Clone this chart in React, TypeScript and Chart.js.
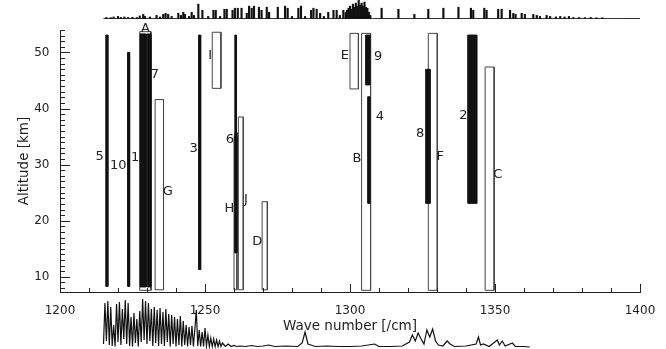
import React, { useEffect, useRef } from 'react';
import { Chart, registerables } from 'chart.js';

Chart.register(...registerables);

// ---- axis ranges & tick labels ----
const waveMin = 1200;
const waveMax = 1400;
const altMin = 7.3;
const altMax = 54;
const xTickValues = [1200, 1250, 1300, 1350, 1400];
const yTickValues = [10, 20, 30, 40, 50];

// ---- filled (black) retrieval windows ----
const solidNames = ['5', '10', '1', '7', '3', 'Hline', '6', '9', '4', '8', '2'];
const solidStart = [1215.8, 1223.3, 1227.6, 1230.1, 1247.8, 1260.3, 1260.3, 1305.4, 1306.1, 1326.1, 1340.6];
const solidEnd = [1216.5, 1224.0, 1229.7, 1231.3, 1248.5, 1260.8, 1261.0, 1306.8, 1306.8, 1327.6, 1343.7];
const solidLow = [8.3, 8.3, 8.2, 8.2, 11.3, 14.3, 14.3, 44.2, 23.1, 23.1, 23.1];
const solidHigh = [53.1, 50.0, 53.3, 53.3, 53.1, 53.1, 35.7, 53.1, 42.1, 47.0, 53.1];

// ---- open retrieval windows ----
const openNames = ['A', 'G', 'I', 'H', 'J', 'D', 'E', 'B', 'F', 'C'];
const openStart = [1227.5, 1232.8, 1252.5, 1260.0, 1261.5, 1269.7, 1300.0, 1304.0, 1327.0, 1346.6];
const openEnd = [1231.4, 1235.7, 1255.5, 1261.0, 1263.2, 1271.5, 1302.9, 1307.1, 1330.1, 1349.7];
const openLow = [7.6, 7.7, 43.6, 7.7, 7.7, 7.7, 43.5, 7.6, 7.6, 7.6];
const openHigh = [53.7, 41.6, 53.6, 35.0, 38.5, 23.4, 53.4, 53.4, 53.4, 47.4];

// ---- window labels (anchored in data units) ----
const labelText = ['5', '10', '1', '7', 'A', 'G', '3', 'I', '6', 'H', 'J', 'D', 'E', '9', '4', 'B', '8', 'F', '2', 'C'];
const labelWave = [1213.7, 1220.1, 1225.9, 1232.7, 1229.5, 1237.2, 1246.1, 1251.8, 1258.6, 1258.4, 1264.1, 1268.0, 1298.2, 1309.7, 1310.3, 1302.4, 1324.2, 1331.1, 1339.1, 1351.0];
const labelAlt = [31.4, 29.9, 31.3, 46.0, 54.3, 25.2, 32.9, 49.4, 34.4, 22.2, 23.7, 16.3, 49.4, 49.3, 38.5, 31.1, 35.6, 31.4, 38.8, 28.2];

// ---- top spectrum (line strengths, arbitrary units) ----
const topWave = [
  1216, 1217.5, 1218.5, 1220, 1221, 1222.2, 1223.5, 1225, 1226.5, 1227.5, 1228.7, 1229.3, 1231, 1233.3, 1234.5,
  1235.6, 1236.4, 1237.3, 1238.5, 1240.8, 1241.7, 1242.5, 1243.1, 1244.5, 1245.4, 1246.2, 1247.7, 1249.1, 1251.1,
  1252.9, 1253.7, 1255.2, 1256.7, 1257.5, 1259.5, 1260.3, 1261.3, 1262.6, 1264.4, 1265.2, 1266.1, 1266.9, 1268.6,
  1269.5, 1271.3, 1272.1, 1275.1, 1277.6, 1278.5, 1280, 1282.2, 1283.1, 1284.5, 1286.6, 1287.4, 1288.5, 1289.7,
  1291, 1292.5, 1294.3, 1295.4, 1296.5, 1297.7, 1298.5, 1299, 1299.5, 1300, 1300.5, 1301, 1301.5, 1302, 1302.5,
  1303, 1303.5, 1304, 1304.5, 1305, 1305.5, 1306, 1306.5, 1307, 1310.9, 1316.7, 1322.2, 1327, 1332.2, 1337.4,
  1341.7, 1342.5, 1346.3, 1347.1, 1351.1, 1352.3, 1355.2, 1356.3, 1357.1, 1359.2, 1360.3, 1363.2, 1364.4, 1365.5,
  1367.8, 1369, 1371, 1372.5, 1374, 1375.5, 1377, 1379, 1381, 1383, 1385, 1387,
];
const topValue = [
  1, 0.8, 1.5, 2, 1, 1.5, 1, 1.2, 1, 2.5, 4, 2, 1.5, 3, 1.5,
  4, 5, 4, 2, 5, 3, 6, 4, 2, 6, 3, 14, 8, 2,
  8, 8, 2, 9, 9, 8, 10, 10, 10, 5, 12, 10, 12, 11,
  8, 11, 6, 11, 12, 10, 2, 10, 12, 2, 8, 10, 9, 5,
  2, 6, 8, 8, 3, 8, 6, 8, 10, 12, 9, 14, 11, 15, 12,
  18, 13, 15, 12, 16, 11, 10, 6, 3, 10, 9, 4, 9, 10, 11,
  10, 8, 10, 8, 9, 9, 8, 5, 4, 5, 4, 4, 3, 2,
  3, 2, 1.5, 2, 1.5, 2, 1, 1, 0.8, 1, 0.7, 0.8,
];

// ---- bottom spectrum (trace, arbitrary units) ----
const bottomWave = [
  1215.0, 1215.5, 1216.0, 1216.5, 1217.0, 1217.5, 1218.0, 1218.5, 1219.0, 1219.5, 1220.0, 1220.5, 1221.0, 1221.5,
  1222.0, 1222.5, 1223.0, 1223.5, 1224.0, 1224.5, 1225.0, 1225.5, 1226.0, 1226.5, 1227.0, 1227.5, 1228.0, 1228.5,
  1229.0, 1229.5, 1230.0, 1230.5, 1231.0, 1231.5, 1232.0, 1232.5, 1233.0, 1233.5, 1234.0, 1234.5, 1235.0, 1235.5,
  1236.0, 1236.5, 1237.0, 1237.5, 1238.0, 1238.5, 1239.0, 1239.5, 1240.0, 1240.5, 1241.0, 1241.5, 1242.0, 1242.5,
  1243.0, 1243.5, 1244.0, 1244.5, 1245.0, 1245.5, 1246.0, 1246.5, 1247.0, 1247.5, 1248.0, 1248.5, 1249.0, 1249.5,
  1250.0, 1250.5, 1251.0, 1251.5, 1252.0, 1252.5, 1253.0, 1253.5, 1254.0, 1254.5, 1255.0, 1255.5, 1256.0, 1257.0,
  1258.0, 1259, 1260, 1261, 1262, 1264, 1266, 1268, 1270, 1272, 1274, 1278, 1282, 1283.5, 1284.5, 1285.5, 1286.5,
  1288, 1292, 1296, 1300, 1304, 1308.5, 1310, 1314, 1318, 1320.5, 1321.5, 1322.5, 1323.5, 1324.5, 1325.5, 1326.5,
  1327.5, 1328.5, 1329.5, 1330.5, 1332, 1333.5, 1334.5, 1336, 1340, 1343.5, 1344.3, 1345, 1346, 1348, 1350.8,
  1351.5, 1352.5, 1353.5, 1356, 1357, 1360, 1362,
];
const bottomValue = [
  3, 44, 6, 46, 2, 40, 1, 22, 0.5, 43, 5, 45, 2, 38,
  8, 47, 3, 44, 1, 30, 0.5, 34, 4, 28, 0.5, 36, 5, 48,
  7, 46, 3, 44, 6, 38, 1, 40, 4, 37, 1, 39, 3, 35,
  1, 38, 5, 33, 0.5, 32, 3, 30, 0.5, 28, 2, 31, 0.5, 26,
  2, 22, 0.5, 20, 2, 21, 0.5, 18, 37, 1, 17, 0.5, 15, 0.5,
  19, 1, 12, 0.5, 9, 0.5, 8, 0.5, 7, 0.5, 6, 0.5, 4, 0.5,
  3, 0.5, 1.5, 0.5, 1, 0.5, 1.5, 0.5, 1, 2, 0.5, 1, 0.5, 4, 15, 3, 2,
  0.5, 1, 0.5, 0.5, 1, 3, 0.5, 0.5, 1, 5, 12, 6, 14, 8, 3, 17,
  10, 18, 6, 2, 1, 6, 3, 0.5, 1, 3, 10, 2, 3, 0.5, 7,
  2, 6, 1, 4, 0.5, 0.5, 0,
];

const FONT = '"DejaVu Sans", "Liberation Sans", sans-serif';
const INK = '#222';

function rectPoints(x0: number, x1: number, lo: number, hi: number) {
  return [
    { x: x0, y: lo },
    { x: x0, y: hi },
    { x: x1, y: hi },
    { x: x1, y: lo },
    { x: x0, y: lo },
  ];
}

const decorPlugin = {
  id: 'decor',
  afterDatasetsDraw(chart: any) {
    const { ctx, chartArea } = chart;
    const x = chart.scales.x;
    const y = chart.scales.y;
    ctx.save();
    ctx.strokeStyle = INK;
    ctx.lineWidth = 1;
    ctx.beginPath();
    for (let v = 8; v <= 54; v++) {
      const py = Math.round(y.getPixelForValue(v)) + 0.5;
      const len = v % 10 === 0 ? 10 : 5;
      ctx.moveTo(chartArea.left, py);
      ctx.lineTo(chartArea.left + len, py);
    }
    for (let v = waveMin; v <= waveMax; v += 10) {
      const px = Math.round(x.getPixelForValue(v)) + 0.5;
      const len = v % 50 === 0 ? 8 : 4;
      ctx.moveTo(px, chartArea.bottom);
      ctx.lineTo(px, chartArea.bottom - len);
    }
    ctx.stroke();
    ctx.fillStyle = INK;
    ctx.font = `13px ${FONT}`;
    ctx.textAlign = 'center';
    ctx.textBaseline = 'middle';
    labelText.forEach((t, i) => {
      ctx.fillText(t, x.getPixelForValue(labelWave[i]), y.getPixelForValue(labelAlt[i]));
    });
    ctx.restore();
  },
};

export default function App() {
  const mainRef = useRef<HTMLCanvasElement>(null);
  const topRef = useRef<HTMLCanvasElement>(null);
  const botRef = useRef<HTMLCanvasElement>(null);

  useEffect(() => {
    const datasets: any[] = [];
    solidNames.forEach((n, i) => {
      datasets.push({
        label: n,
        data: rectPoints(solidStart[i], solidEnd[i], solidLow[i], solidHigh[i]),
        borderColor: '#111',
        backgroundColor: '#111',
        borderWidth: 1,
        fill: 'shape',
        pointRadius: 0,
        tension: 0,
      });
    });
    openNames.forEach((n, i) => {
      datasets.push({
        label: n,
        data: rectPoints(openStart[i], openEnd[i], openLow[i], openHigh[i]),
        borderColor: '#444',
        backgroundColor: 'rgba(0,0,0,0)',
        borderWidth: 1,
        fill: false,
        pointRadius: 0,
        tension: 0,
      });
    });

    const main = new Chart(mainRef.current!, {
      type: 'line',
      data: { datasets },
      options: {
        responsive: false,
        animation: false,
        events: [],
        layout: { padding: { left: 0, right: 26, top: 30, bottom: 0 } },
        plugins: { legend: { display: false }, tooltip: { enabled: false } },
        scales: {
          x: {
            type: 'linear',
            min: waveMin,
            max: waveMax,
            grid: { display: false, drawTicks: false },
            border: { display: true, color: INK, width: 1 },
            afterBuildTicks: (s: any) => {
              s.ticks = xTickValues.map((v) => ({ value: v }));
            },
            afterFit: (s: any) => {
              s.height = 57;
              s.paddingLeft = 0;
              s.paddingRight = 0;
            },
            ticks: {
              padding: 12,
              maxRotation: 0,
              autoSkip: false,
              color: INK,
              font: { family: FONT, size: 12 },
              callback: (v: any) => String(v),
            },
            title: {
              display: true,
              text: 'Wave number [/cm]',
              color: INK,
              font: { family: FONT, size: 13.5 },
              padding: { top: 0, bottom: 14 },
            },
          },
          y: {
            type: 'linear',
            min: altMin,
            max: altMax,
            grid: { display: false, drawTicks: false },
            border: { display: true, color: INK, width: 1 },
            afterBuildTicks: (s: any) => {
              s.ticks = yTickValues.map((v) => ({ value: v }));
            },
            afterFit: (s: any) => {
              s.width = 60;
              s.paddingTop = 0;
              s.paddingBottom = 0;
            },
            ticks: {
              padding: 10.5,
              autoSkip: false,
              color: INK,
              font: { family: FONT, size: 12 },
              callback: (v: any) => String(v),
            },
            title: {
              display: true,
              text: 'Altitude [km]',
              color: INK,
              font: { family: FONT, size: 13.5 },
              padding: { top: 16, bottom: 0 },
            },
          },
        },
      } as any,
      plugins: [decorPlugin],
    });

    const top = new Chart(topRef.current!, {
      type: 'bar',
      data: {
        datasets: [
          {
            type: 'bar',
            data: topWave.map((w, i) => ({ x: w, y: topValue[i] })),
            backgroundColor: '#111',
            borderWidth: 0,
            barThickness: 1.5,
          } as any,
          {
            type: 'line',
            data: [
              { x: 1215, y: 0 },
              { x: 1401, y: 0 },
            ],
            borderColor: '#333',
            borderWidth: 1,
            pointRadius: 0,
          } as any,
        ],
      },
      options: {
        responsive: false,
        animation: false,
        events: [],
        layout: { padding: { left: 60, right: 26, top: 0, bottom: 2 } },
        plugins: { legend: { display: false }, tooltip: { enabled: false } },
        scales: {
          x: { type: 'linear', min: waveMin, max: waveMax, offset: false, display: false },
          y: { type: 'linear', min: -0.5, max: 18, display: false },
        },
      } as any,
    });

    const bot = new Chart(botRef.current!, {
      type: 'line',
      data: {
        datasets: [
          {
            data: bottomWave.map((w, i) => ({ x: w, y: bottomValue[i] })),
            borderColor: '#111',
            borderWidth: 1.2,
            pointRadius: 0,
            tension: 0,
            fill: false,
          },
        ],
      },
      options: {
        responsive: false,
        animation: false,
        events: [],
        layout: { padding: { left: 60, right: 26, top: 0, bottom: 0 } },
        plugins: { legend: { display: false }, tooltip: { enabled: false } },
        scales: {
          x: { type: 'linear', min: waveMin, max: waveMax, display: false },
          y: { type: 'linear', min: -2, max: 51, display: false },
        },
      } as any,
    });

    return () => {
      main.destroy();
      top.destroy();
      bot.destroy();
    };
  }, []);

  return (
    <div
      style={{
        position: 'fixed',
        left: 0,
        top: 0,
        width: 666,
        height: 349,
        background: '#fff',
        overflow: 'hidden',
      }}
    >
      <canvas ref={mainRef} width={666} height={349} style={{ position: 'absolute', left: 0, top: 0 }} />
      <canvas ref={topRef} width={666} height={21} style={{ position: 'absolute', left: 0, top: 0 }} />
      <canvas ref={botRef} width={666} height={53} style={{ position: 'absolute', left: 0, top: 296 }} />
    </div>
  );
}
